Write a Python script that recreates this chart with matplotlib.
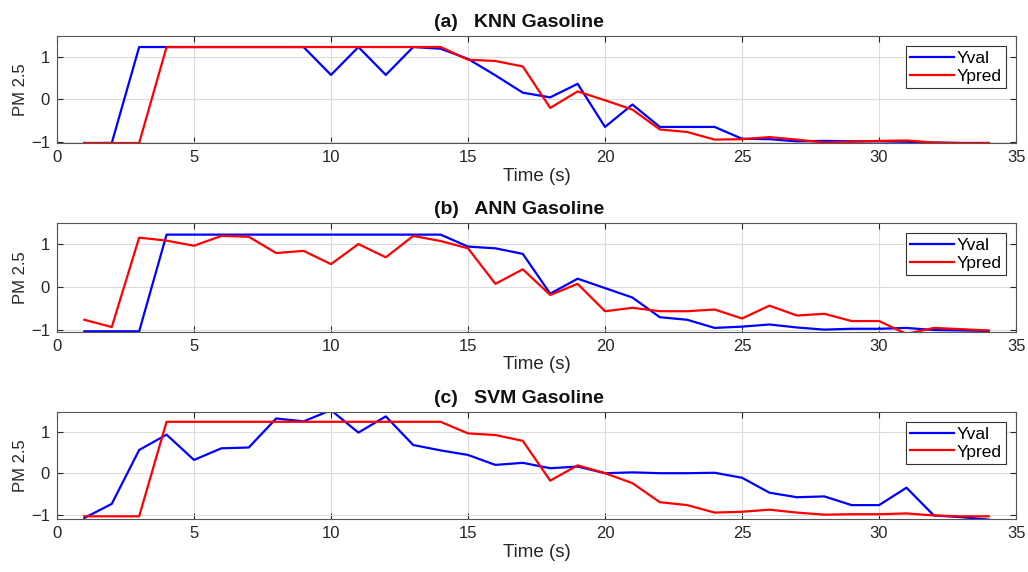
import matplotlib

matplotlib.use("Agg")
import matplotlib.pyplot as plt

plt.rcParams["font.family"] = ["Liberation Sans", "DejaVu Sans"]

time_s = list(range(1, 35))

knn_yval = [-1.03, -1.03, 1.24, 1.24, 1.24, 1.24, 1.24, 1.24, 1.24, 0.58,
            1.24, 0.58, 1.24, 1.20, 0.96, 0.57, 0.16, 0.05, 0.37, -0.65,
            -0.12, -0.65, -0.65, -0.65, -0.93, -0.94, -0.99, -0.98, -0.99, -0.99,
            -1.00, -1.02, -1.03, -1.03]
knn_ypred = [-1.03, -1.03, -1.03, 1.24, 1.24, 1.24, 1.24, 1.24, 1.24, 1.24,
             1.24, 1.24, 1.24, 1.24, 0.94, 0.91, 0.78, -0.20, 0.19, -0.02,
             -0.24, -0.71, -0.77, -0.95, -0.94, -0.89, -0.95, -1.02, -1.00, -0.98,
             -0.97, -1.02, -1.03, -1.03]

ann_yval = [-1.04, -1.04, -1.04, 1.22, 1.22, 1.22, 1.22, 1.22, 1.22, 1.22,
            1.22, 1.22, 1.22, 1.22, 0.94, 0.90, 0.77, -0.16, 0.19, -0.03,
            -0.25, -0.71, -0.77, -0.96, -0.93, -0.88, -0.95, -1.00, -0.98, -0.98,
            -0.96, -1.01, -1.02, -1.03]
ann_ypred = [-0.77, -0.94, 1.15, 1.08, 0.96, 1.19, 1.17, 0.79, 0.84, 0.53,
             1.00, 0.69, 1.19, 1.07, 0.90, 0.07, 0.41, -0.19, 0.07, -0.57,
             -0.49, -0.57, -0.57, -0.53, -0.74, -0.44, -0.67, -0.63, -0.80, -0.80,
             -1.10, -0.96, -0.99, -1.02]

svm_yval = [-1.08, -0.74, 0.56, 0.93, 0.32, 0.60, 0.62, 1.32, 1.25, 1.52,
            0.98, 1.37, 0.68, 0.55, 0.44, 0.20, 0.25, 0.12, 0.16, 0.00,
            0.02, 0.00, 0.00, 0.01, -0.11, -0.47, -0.58, -0.56, -0.77, -0.77,
            -0.35, -1.02, -1.06, -1.12]
svm_ypred = [-1.04, -1.04, -1.04, 1.24, 1.24, 1.24, 1.24, 1.24, 1.24, 1.24,
             1.24, 1.24, 1.24, 1.24, 0.96, 0.92, 0.78, -0.18, 0.19, 0.00,
             -0.24, -0.70, -0.77, -0.95, -0.93, -0.88, -0.95, -1.00, -0.99, -0.99,
             -0.97, -1.02, -1.04, -1.04]

panels = [
    ("(a)", "KNN Gasoline", knn_yval, knn_ypred, (-1.03, 1.50)),
    ("(b)", "ANN Gasoline", ann_yval, ann_ypred, (-1.05, 1.49)),
    ("(c)", "SVM Gasoline", svm_yval, svm_ypred, (-1.10, 1.48)),
]

boxes = [
    (0.0554, 0.750, 0.933, 0.187),
    (0.0554, 0.420, 0.933, 0.190),
    (0.0554, 0.093, 0.933, 0.187),
]

TXT = "#262626"

fig = plt.figure(figsize=(10.28, 5.72), dpi=100)
for (tag, name, yval, ypred, ylim), box in zip(panels, boxes):
    ax = fig.add_axes(box)
    ax.plot(time_s, yval, color="#0000ff", lw=1.6, label="Yval")
    ax.plot(time_s, ypred, color="#ff0000", lw=1.6, label="Ypred")
    ax.set_xlim(0, 35)
    ax.set_ylim(*ylim)
    ax.set_xticks(range(0, 36, 5))
    ax.set_yticks([-1, 0, 1])
    ax.grid(True, color="#dcdcdc", lw=0.8)
    ax.set_axisbelow(True)
    ax.tick_params(direction="in", top=True, right=True, length=4,
                   labelsize=12, colors=TXT, labelcolor=TXT, pad=5)
    for sp in ax.spines.values():
        sp.set_color("#555555")
        sp.set_linewidth(0.8)
    ax.set_xlabel("Time (s)", fontsize=13.5, color=TXT, labelpad=2)
    ax.set_ylabel("PM 2.5", fontsize=12, color=TXT, labelpad=2)
    ax.text(0.482, 1.045, f"{tag}   {name}", transform=ax.transAxes,
            ha="center", va="bottom", fontsize=14, fontweight="bold", color="#111111")
    leg = ax.legend(loc="upper right", fontsize=12.5, fancybox=False,
                    borderpad=0.25, handlelength=2.5, handletextpad=0.15,
                    labelspacing=0.15, borderaxespad=0.6)
    leg.get_frame().set_edgecolor("#333333")
    leg.get_frame().set_linewidth(0.8)
    leg.get_frame().set_alpha(1)

fig.savefig("out.png", dpi=100)
